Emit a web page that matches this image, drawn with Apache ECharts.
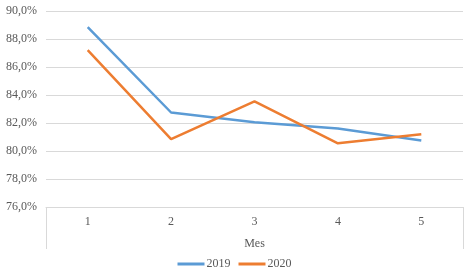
<!DOCTYPE html>
<html>
<head>
<meta charset="utf-8">
<script src="https://cdn.jsdelivr.net/npm/echarts@6/dist/echarts.min.js"></script>
<style>
  html, body { margin: 0; padding: 0; background: #fff; }
  #chart { width: 469px; height: 275px; }
</style>
</head>
<body>
<div id="chart"></div>
<script>
var meses = ["1", "2", "3", "4", "5"];
var serie2019 = [88.85, 82.75, 82.05, 81.6, 80.75];
var serie2020 = [87.2, 80.85, 83.55, 80.55, 81.2];

var fuente = "'Liberation Serif', 'Times New Roman', serif";

var myChart = echarts.init(document.getElementById("chart"));
myChart.setOption({
  animation: false,
  color: ["#5B9BD5", "#ED7D31"],
  grid: {
    left: 46,
    right: 6,
    top: 11,
    bottom: 68
  },
  legend: {
    bottom: 0,
    left: "center",
    icon: "rect",
    itemWidth: 27,
    itemHeight: 3,
    itemGap: 8,
    textStyle: {
      fontFamily: fuente,
      fontSize: 12,
      color: "#595959",
      padding: [0, 0, 0, -3]
    },
    data: ["2019", "2020"]
  },
  xAxis: {
    type: "category",
    data: meses,
    name: "Mes",
    nameLocation: "middle",
    nameGap: 31,
    nameTextStyle: {
      fontFamily: fuente,
      fontSize: 12,
      color: "#595959"
    },
    axisLine: {
      lineStyle: { color: "#d9d9d9" }
    },
    axisTick: {
      show: true,
      length: 42,
      // solo en los extremos
      interval: function (index) {
        return index === 0;
      },
      lineStyle: { color: "#d9d9d9" }
    },
    axisLabel: {
      fontFamily: fuente,
      fontSize: 12,
      color: "#595959",
      margin: 9,
      interval: 0
    }
  },
  yAxis: {
    type: "value",
    min: 76,
    max: 90,
    interval: 2,
    axisLine: { show: false },
    axisTick: { show: false },
    splitLine: {
      lineStyle: { color: "#d9d9d9", width: 1 }
    },
    axisLabel: {
      fontFamily: fuente,
      fontSize: 12,
      color: "#595959",
      margin: 9,
      formatter: function (v) {
        return v.toFixed(1).replace(".", ",") + "%";
      }
    }
  },
  series: [
    {
      name: "2019",
      type: "line",
      data: serie2019,
      symbol: "none",
      lineStyle: { width: 2.5 }
    },
    {
      name: "2020",
      type: "line",
      data: serie2020,
      symbol: "none",
      lineStyle: { width: 2.5 }
    }
  ]
});
</script>
</body>
</html>
